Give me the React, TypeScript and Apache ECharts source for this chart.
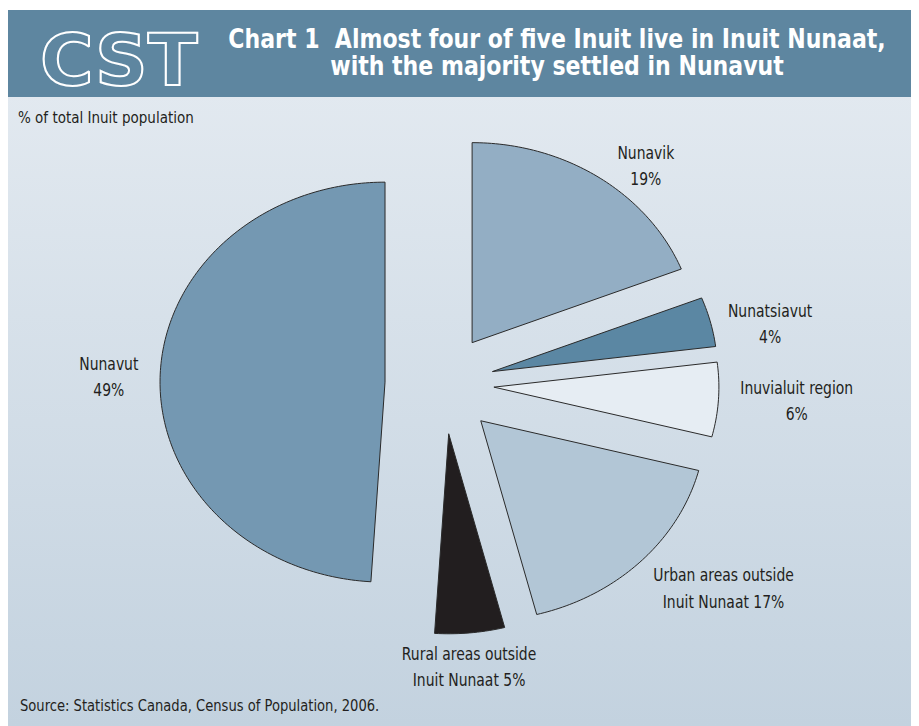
import React, { useEffect, useRef } from "react";
import * as echarts from "echarts";

// ---- data ----
const categories = [
  "Nunavik",
  "Nunatsiavut",
  "Inuvialuit region",
  "Urban areas outside Inuit Nunaat",
  "Rural areas outside Inuit Nunaat",
  "Nunavut",
];
const values = [19, 4, 6, 17, 5, 49];
const labelLines = [
  ["Nunavik"],
  ["Nunatsiavut"],
  ["Inuvialuit region"],
  ["Urban areas outside", "Inuit Nunaat"],
  ["Rural areas outside", "Inuit Nunaat"],
  ["Nunavut"],
];
const titleLines = [
  "Chart 1  Almost four of five Inuit live in Inuit Nunaat,",
  "with the majority settled in Nunavut",
];
const subtitle = "% of total Inuit population";
const source = "Source: Statistics Canada, Census of Population, 2006.";

// ---- styles ----
const sliceColors = ["#93aec4", "#5b87a3", "#e6edf3", "#b2c6d6", "#221e1f", "#7498b2"];
const explode = [50, 50, 50, 52, 50, 59];
const labelAngle = [39.5, 78.3, 93.1, 129.5, 175.5, 271.3];
const labelRadius = [1.41, 1.48, 1.57, 1.61, 1.42, 1.49];
const FONT = '"DejaVu Sans Condensed", "Liberation Sans Narrow", sans-serif';

export default function App() {
  const ref = useRef<HTMLDivElement>(null);

  useEffect(() => {
    if (!ref.current) return;
    const chart = echarts.init(ref.current, null, { renderer: "svg" });
    const total = values.reduce((s, v) => s + v, 0);
    const starts: number[] = [];
    let acc = 0;
    values.forEach((v) => {
      starts.push(acc);
      acc += v;
    });

    const cx = 436;
    const cy = 376;
    const rx = 225;
    const ry = 200;

    const pt = (ox: number, oy: number, deg: number, fx = 1, fy = 1) => {
      const t = (deg * Math.PI) / 180;
      return [ox + rx * fx * Math.sin(t), oy - ry * fy * Math.cos(t)];
    };

    const option: any = {
      animation: false,
      graphic: [
        {
          type: "rect",
          z: 0,
          silent: true,
          shape: { x: 0, y: 2, width: 911, height: 716 },
          style: {
            fill: new echarts.graphic.LinearGradient(0, 0, 0, 1, [
              { offset: 0, color: "#e6ecf2" },
              { offset: 1, color: "#c3d2df" },
            ]),
          },
        },
        {
          type: "rect",
          z: 1,
          silent: true,
          shape: { x: 0, y: 2, width: 911, height: 87 },
          style: { fill: "#5e86a0" },
        },
        {
          type: "text",
          z: 2,
          x: 32,
          y: 52,
          scaleX: 1.03,
          style: {
            text: "CST",
            fill: "rgba(0,0,0,0)",
            stroke: "#ffffff",
            lineWidth: 2,
            font: 'bold 71px "DejaVu Sans", sans-serif',
            verticalAlign: "middle",
            align: "left",
          },
        },
        {
          type: "text",
          z: 2,
          x: 549,
          y: 31,
          scaleY: 1.1,
          style: {
            text: titleLines[0],
            fill: "#ffffff",
            fontFamily: FONT,
            fontWeight: "bold",
            fontSize: 24.5,
            align: "center",
            verticalAlign: "middle",
          },
        },
        {
          type: "text",
          z: 2,
          x: 549,
          y: 58,
          scaleY: 1.1,
          style: {
            text: titleLines[1],
            fill: "#ffffff",
            fontFamily: FONT,
            fontWeight: "bold",
            fontSize: 24.5,
            align: "center",
            verticalAlign: "middle",
          },
        },
        {
          type: "text",
          z: 2,
          x: 10,
          y: 110,
          style: {
            text: subtitle,
            fill: "#231f20",
            fontFamily: FONT,
            fontSize: 15,
            align: "left",
            verticalAlign: "middle",
          },
        },
        {
          type: "text",
          z: 2,
          x: 12,
          y: 698,
          scaleY: 1.1,
          style: {
            text: source,
            fill: "#231f20",
            fontFamily: FONT,
            fontSize: 14.6,
            align: "left",
            verticalAlign: "middle",
          },
        },
      ],
      series: [
        {
          type: "custom",
          coordinateSystem: "none",
          z: 10,
          data: values.map((v, i) => ({ name: categories[i], value: [v, i] })),
          renderItem: (params: any, api: any) => {
            const i = params.dataIndex;
            const v = api.value(0);
            const a0 = (starts[i] / total) * 360;
            const a1 = ((starts[i] + v) / total) * 360;
            const mid = (a0 + a1) / 2;
            const mt = (mid * Math.PI) / 180;
            const ox = cx + explode[i] * Math.sin(mt);
            const oy = cy - explode[i] * Math.cos(mt);
            const points: number[][] = [[ox, oy]];
            const steps = Math.max(4, Math.ceil((a1 - a0) / 1));
            for (let k = 0; k <= steps; k++) {
              points.push(pt(ox, oy, a0 + ((a1 - a0) * k) / steps));
            }
            const lp = pt(cx, cy, labelAngle[i], labelRadius[i], labelRadius[i]);
            const lines = labelLines[i].slice();
            if (lines.length === 1) lines.push(`${v}%`);
            else lines[lines.length - 1] = `${lines[lines.length - 1]} ${v}%`;
            return {
              type: "group",
              children: [
                {
                  type: "polygon",
                  shape: { points },
                  style: { fill: sliceColors[i], stroke: "#2a2a2a", lineWidth: 1 },
                },
                {
                  type: "text",
                  x: lp[0],
                  y: lp[1],
                  scaleY: 1.12,
                  style: {
                    text: lines.join("\n"),
                    fill: "#231f20",
                    fontFamily: FONT,
                    fontSize: 15.5,
                    lineHeight: 23.5,
                    align: "center",
                    verticalAlign: "middle",
                  },
                },
              ],
            };
          },
        },
      ],
    };
    chart.setOption(option);
    return () => chart.dispose();
  }, []);

  return <div ref={ref} style={{ width: 911, height: 718 }} />;
}
